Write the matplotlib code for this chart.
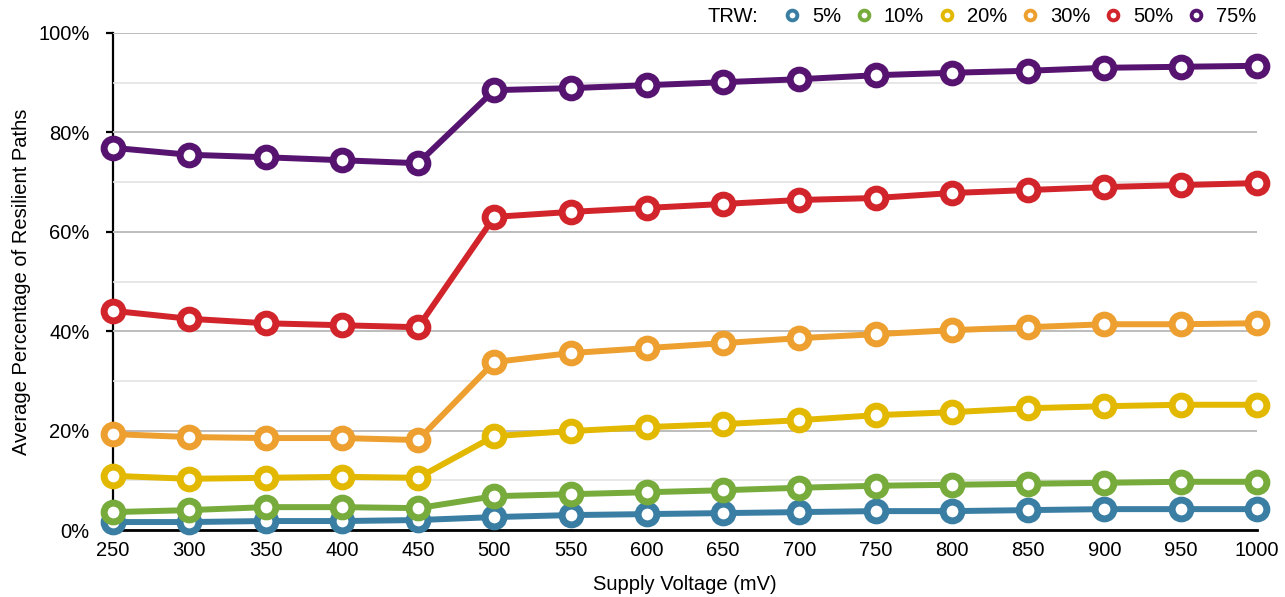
import matplotlib
matplotlib.use("Agg")
import matplotlib.pyplot as plt
from matplotlib.lines import Line2D
from matplotlib.ticker import MultipleLocator, FuncFormatter

plt.rcParams['font.family'] = ['Liberation Sans', 'DejaVu Sans']

voltages = [250, 300, 350, 400, 450, 500, 550, 600, 650, 700, 750, 800, 850, 900, 950, 1000]

trw_5 = [1.6, 1.6, 1.8, 1.8, 2.0, 2.6, 3.0, 3.2, 3.4, 3.6, 3.8, 3.8, 4.0, 4.2, 4.2, 4.2]
trw_10 = [3.6, 4.0, 4.6, 4.6, 4.4, 6.8, 7.2, 7.6, 8.0, 8.5, 8.9, 9.1, 9.3, 9.5, 9.7, 9.7]
trw_20 = [10.9, 10.3, 10.5, 10.7, 10.5, 18.9, 19.9, 20.7, 21.3, 22.1, 23.1, 23.7, 24.5, 24.9, 25.2, 25.2]
trw_30 = [19.3, 18.7, 18.5, 18.5, 18.1, 33.8, 35.6, 36.6, 37.6, 38.6, 39.4, 40.2, 40.8, 41.4, 41.4, 41.6]
trw_50 = [44.1, 42.5, 41.6, 41.2, 40.8, 63.0, 64.0, 64.8, 65.6, 66.4, 66.8, 67.8, 68.4, 69.0, 69.4, 69.8]
trw_75 = [76.9, 75.5, 75.0, 74.4, 73.8, 88.5, 88.9, 89.5, 90.1, 90.7, 91.5, 92.0, 92.4, 93.0, 93.2, 93.4]

series_labels = ["5%", "10%", "20%", "30%", "50%", "75%"]
series_values = [trw_5, trw_10, trw_20, trw_30, trw_50, trw_75]
colors = ["#3a7ea3", "#77ab3c", "#e2b800", "#ed9f2f", "#d2242b", "#561470"]

FS = 14.5

fig = plt.figure(figsize=(12.85, 5.97), dpi=100)
ax = fig.add_axes([113 / 1285, 1 - 530 / 597, (1257 - 113) / 1285, (530 - 33) / 597])

ax.set_xlim(voltages[0], voltages[-1])
ax.set_ylim(0, 100)

# grid: major every 20%, minor every 10%
ax.yaxis.set_major_locator(MultipleLocator(20))
ax.yaxis.set_minor_locator(MultipleLocator(10))
ax.grid(axis='y', which='major', color='#bdbdbd', linewidth=1.4, zorder=0)
ax.grid(axis='y', which='minor', color='#e3e3e3', linewidth=1.2, zorder=0)
ax.yaxis.set_major_formatter(FuncFormatter(lambda v, p: f"{int(v)}%"))
ax.set_xticks(voltages)

for spine in ['top', 'right']:
    ax.spines[spine].set_visible(False)
ax.spines['left'].set_linewidth(1.6)
ax.spines['bottom'].set_linewidth(2.0)
ax.spines['left'].set_zorder(1)

ax.tick_params(axis='y', which='major', length=5, width=1.6, direction='out',
               labelsize=FS, pad=12)
ax.tick_params(axis='y', which='minor', length=0)
ax.tick_params(axis='x', length=0, labelsize=FS, pad=8)

for vals, col, lab in zip(series_values, colors, series_labels):
    ax.plot(voltages, vals, color=col, linewidth=4.3, marker='o', markersize=13.5,
            markerfacecolor='white', markeredgecolor=col, markeredgewidth=5,
            clip_on=False, zorder=3, label=lab)

ax.set_xlabel("Supply Voltage (mV)", fontsize=FS, labelpad=11)
ax.set_ylabel("Average Percentage of Resilient Paths", fontsize=FS, labelpad=5)

handles = [Line2D([], [], linestyle='none', marker='o', markersize=7,
                  markerfacecolor='white', markeredgecolor=c, markeredgewidth=2.8)
           for c in colors]
leg = fig.legend(handles, series_labels, ncol=6, loc='center right',
                 bbox_to_anchor=(1256 / 1285, 1 - 17 / 597), frameon=False,
                 fontsize=FS, handlelength=1.0, handletextpad=0.5,
                 columnspacing=0.62, borderpad=0.0, borderaxespad=0.0)
fig.text(708 / 1285, 1 - 17 / 597, "TRW:", fontsize=FS, ha='left', va='center')

fig.savefig("out.png", dpi=100, facecolor='white')
